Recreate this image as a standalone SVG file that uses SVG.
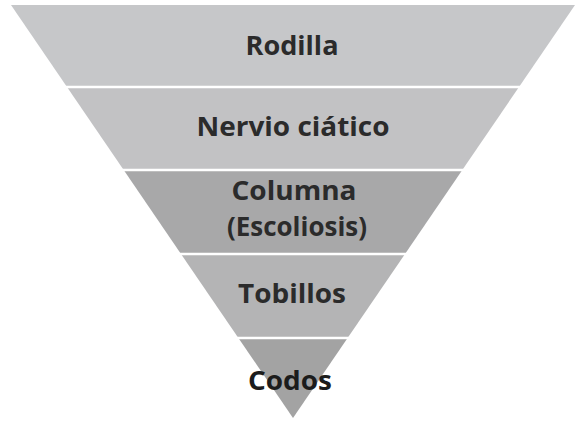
<svg xmlns="http://www.w3.org/2000/svg" width="579" height="425" viewBox="0 0 579 425">
<style>
.lbl{font-family:"Open Sans","Noto Sans","Liberation Sans",sans-serif;font-weight:bold;font-size:27px;fill:#2b2b2b;text-anchor:middle}
.sep{stroke:#ffffff;stroke-width:2.5}
</style>
<rect width="579" height="425" fill="#ffffff"/>
<g id="band-rodilla">
<polygon points="11,5 575,5 519,87 67,87" fill="#c6c7c9"/>
<text class="lbl" x="292" y="55" textLength="93" lengthAdjust="spacingAndGlyphs">Rodilla</text>
</g>
<g id="band-nervio">
<polygon points="67,87 519,87 462.3,170 123.7,170" fill="#c2c2c4"/>
<text class="lbl" x="293" y="136" textLength="193" lengthAdjust="spacingAndGlyphs">Nervio ciático</text>
</g>
<g id="band-columna">
<polygon points="123.7,170 462.3,170 405,254 181,254" fill="#a8a8a9"/>
<text class="lbl" x="294" y="200" textLength="125" lengthAdjust="spacingAndGlyphs">Columna</text>
<text class="lbl" x="297" y="236" textLength="140" lengthAdjust="spacingAndGlyphs">(Escoliosis)</text>
</g>
<g id="band-tobillos">
<polygon points="181,254 405,254 347.6,338 238.4,338" fill="#b4b4b5"/>
<text class="lbl" x="292" y="303" textLength="108" lengthAdjust="spacingAndGlyphs">Tobillos</text>
</g>
<g id="band-codos">
<polygon points="238.4,338 347.6,338 293,418" fill="#a3a3a3"/>
<text class="lbl" x="290" y="390" style="fill:#1c1c1c" textLength="84" lengthAdjust="spacingAndGlyphs">Codos</text>
</g>
<g id="separators">
<line class="sep" x1="60" y1="87" x2="526" y2="87"/>
<line class="sep" x1="117" y1="170" x2="469" y2="170"/>
<line class="sep" x1="174" y1="254" x2="412" y2="254"/>
<line class="sep" x1="231" y1="338" x2="355" y2="338"/>
</g>
</svg>
